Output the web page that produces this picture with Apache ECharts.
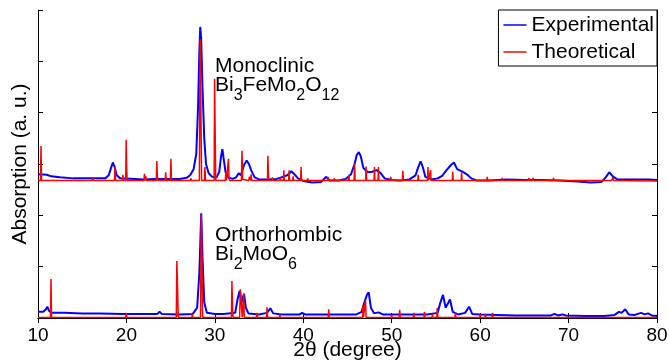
<!DOCTYPE html>
<html>
<head>
<meta charset="utf-8">
<script src="https://cdn.jsdelivr.net/npm/echarts@6/dist/echarts.min.js"></script>
<style>
  html, body { margin: 0; padding: 0; background: #fff; }
  #chart { width: 669px; height: 360px; }
</style>
</head>
<body>
<div id="chart"></div>
<script>
// x: 2theta in degrees, y: absorption in arbitrary units (0..6 on the axis)
const xTicks = [10, 20, 30, 40, 50, 60, 70, 80];

// Monoclinic Bi3FeMo2O12 - measured
const expTop = [
  [10, 2.80], [11, 2.79], [11.5, 2.76], [12.5, 2.74], [14, 2.72], [16, 2.72], [17.6, 2.72],
  [18.0, 2.78], [18.25, 2.92], [18.46, 3.03], [18.65, 2.95], [18.9, 2.78], [19.3, 2.72],
  [21, 2.71], [22, 2.70], [23, 2.71], [24, 2.71], [25, 2.71], [26, 2.71], [26.8, 2.73],
  [27.2, 2.78], [27.6, 2.90], [27.9, 3.20], [28.1, 4.10], [28.25, 5.20], [28.35, 5.67],
  [28.45, 5.45], [28.6, 4.50], [28.8, 3.50], [29.0, 3.00], [29.3, 2.82], [29.7, 2.75],
  [30.2, 2.74], [30.5, 2.85], [30.7, 3.15], [30.85, 3.29], [31.0, 3.10], [31.2, 2.85],
  [31.5, 2.74], [32.0, 2.71], [32.4, 2.74], [32.7, 2.82], [32.95, 2.78], [33.3, 2.98],
  [33.6, 3.07], [33.85, 3.00], [34.1, 2.88], [34.5, 2.74], [35, 2.70], [36, 2.70],
  [37, 2.71], [37.5, 2.74], [38.2, 2.78], [38.65, 2.86], [39.0, 2.80], [39.4, 2.72],
  [40, 2.67], [41, 2.64], [42, 2.65], [42.6, 2.75], [43, 2.68], [44, 2.68], [44.8, 2.71],
  [45.4, 2.80], [45.8, 3.00], [46.05, 3.18], [46.28, 3.23], [46.5, 3.15], [46.8, 2.92],
  [47.3, 2.84], [47.8, 2.85], [48.3, 2.88], [48.7, 2.83], [49.2, 2.72], [50, 2.69],
  [51, 2.68], [52, 2.70], [52.7, 2.78], [53.0, 2.94], [53.27, 3.05], [53.5, 2.95],
  [53.8, 2.75], [54.5, 2.70], [55.2, 2.72], [55.7, 2.77], [56.2, 2.88], [56.7, 2.98],
  [57.04, 3.03], [57.4, 2.90], [58.0, 2.85], [58.5, 2.80], [59, 2.72], [59.6, 2.68],
  [61, 2.68], [63, 2.70], [65, 2.69], [67, 2.69], [69, 2.68], [71, 2.66], [72.5, 2.64],
  [73.7, 2.65], [74.2, 2.74], [74.6, 2.84], [75.0, 2.76], [75.5, 2.70], [77, 2.70],
  [79, 2.70], [80, 2.69]
];

// Monoclinic Bi3FeMo2O12 - calculated
const theoTop = [
  [10, 2.68], [10.28, 2.68], [10.34, 3.35], [10.4, 2.68],
  [16.15, 2.68], [16.2, 2.74], [16.25, 2.68],
  [18.65, 2.68], [18.7, 2.94], [18.78, 2.68],
  [19.55, 2.68], [19.6, 2.79], [19.65, 2.68],
  [19.92, 2.68], [19.97, 3.47], [20.03, 2.90], [20.08, 2.68],
  [21.98, 2.68], [22.04, 2.81], [22.1, 2.68], [22.2, 2.76], [22.26, 2.68],
  [23.38, 2.68], [23.44, 3.06], [23.5, 2.75], [23.56, 2.68],
  [24.38, 2.68], [24.44, 2.84], [24.5, 2.68],
  [24.97, 2.68], [25.03, 3.10], [25.09, 2.68],
  [27.25, 2.68], [27.3, 2.72], [27.35, 2.68],
  [28.25, 2.68], [28.3, 4.50], [28.35, 5.43], [28.42, 4.20], [28.5, 2.68],
  [28.82, 2.68], [28.88, 2.94], [28.94, 2.68],
  [29.92, 2.68], [29.97, 4.66], [30.03, 3.70], [30.1, 2.68],
  [31.18, 2.68], [31.24, 2.84], [31.3, 2.68],
  [31.48, 2.68], [31.54, 3.10], [31.6, 2.72], [31.66, 2.68],
  [33.0, 2.68], [33.07, 3.26], [33.14, 2.70],
  [33.85, 2.68], [33.9, 2.75], [34.05, 2.68], [34.1, 2.80], [34.16, 2.68],
  [35.95, 2.68], [36.0, 3.16], [36.06, 2.78], [36.12, 2.68],
  [36.45, 2.68], [36.5, 2.74], [36.55, 2.68],
  [37.35, 2.68], [37.4, 2.74], [37.45, 2.68],
  [37.75, 2.68], [37.8, 2.88], [37.85, 2.68],
  [38.35, 2.68], [38.4, 2.88], [38.45, 2.68],
  [38.8, 2.68], [38.85, 2.76], [38.9, 2.68],
  [39.7, 2.68], [39.75, 2.94], [39.8, 2.68],
  [40.45, 2.68], [40.5, 2.72], [40.55, 2.68],
  [42.75, 2.68], [42.8, 2.75], [42.85, 2.68],
  [43.45, 2.68], [43.5, 2.72], [43.55, 2.68],
  [45.1, 2.68], [45.15, 2.79], [45.2, 2.68],
  [45.75, 2.68], [45.8, 3.02], [45.86, 2.68],
  [47.05, 2.68], [47.1, 2.95], [47.16, 2.68],
  [48.0, 2.68], [48.05, 2.94], [48.1, 2.68],
  [48.45, 2.68], [48.5, 2.94], [48.55, 2.68],
  [49.85, 2.68], [49.9, 2.75], [49.95, 2.68],
  [51.2, 2.68], [51.26, 2.87], [51.32, 2.68],
  [52.95, 2.68], [53.0, 2.79], [53.05, 2.68],
  [54.05, 2.68], [54.1, 2.94], [54.15, 2.68],
  [54.35, 2.68], [54.4, 2.88], [54.45, 2.68],
  [56.85, 2.68], [56.9, 2.85], [56.95, 2.68],
  [57.85, 2.68], [57.9, 2.84], [57.95, 2.68],
  [60.75, 2.68], [60.8, 2.75], [60.85, 2.68],
  [62.45, 2.68], [62.5, 2.73], [62.55, 2.68],
  [65.45, 2.68], [65.5, 2.73], [65.55, 2.68],
  [65.95, 2.68], [66.0, 2.73], [66.05, 2.68],
  [68.25, 2.68], [68.3, 2.73], [68.35, 2.68],
  [74.9, 2.68], [75.0, 2.75], [75.1, 2.68],
  [80, 2.67]
];

// Orthorhombic Bi2MoO6 - measured
const expBot = [
  [10, 0.12], [10.6, 0.12], [10.9, 0.17], [11.05, 0.22], [11.25, 0.14], [11.6, 0.10],
  [13, 0.10], [15, 0.09], [17, 0.09], [19.6, 0.08], [19.8, 0.10], [20.0, 0.08], [22, 0.08],
  [23.5, 0.08], [23.74, 0.12], [24.0, 0.08], [26, 0.07], [27.5, 0.08], [28.0, 0.20],
  [28.25, 0.90], [28.46, 2.04], [28.6, 1.20], [28.8, 0.30], [29.1, 0.10], [30, 0.08],
  [31, 0.08], [32.3, 0.10], [32.55, 0.35], [32.8, 0.53], [33.0, 0.30], [33.3, 0.47],
  [33.5, 0.20], [33.8, 0.09], [35, 0.07], [35.9, 0.10], [36.28, 0.19], [36.6, 0.09],
  [37.5, 0.07], [39.6, 0.07], [39.87, 0.10], [40.2, 0.07], [42, 0.07], [44, 0.07],
  [46, 0.07], [46.6, 0.12], [46.9, 0.30], [47.2, 0.45], [47.4, 0.50], [47.65, 0.20],
  [48.0, 0.09], [48.5, 0.11], [49, 0.07], [52, 0.07], [54, 0.07], [55.2, 0.10],
  [55.5, 0.30], [55.8, 0.45], [56.1, 0.20], [56.3, 0.20], [56.59, 0.36], [56.9, 0.12],
  [57.5, 0.07], [58.3, 0.10], [58.75, 0.22], [59.1, 0.08], [60, 0.07], [62, 0.06],
  [64, 0.05], [66, 0.05], [68, 0.05], [68.4, 0.08], [68.8, 0.05], [69.3, 0.07],
  [69.7, 0.05], [72, 0.04], [74, 0.04], [75.2, 0.06], [75.7, 0.12], [76.0, 0.10],
  [76.4, 0.17], [76.8, 0.07], [77.5, 0.06], [78.2, 0.10], [78.6, 0.07], [79.0, 0.09],
  [79.4, 0.05], [80, 0.04]
];

// Orthorhombic Bi2MoO6 - calculated
const theoBot = [
  [10, 0.01], [11.41, 0.01], [11.47, 0.76], [11.53, 0.01],
  [19.92, 0.01], [19.97, 0.10], [20.03, 0.01],
  [25.64, 0.01], [25.7, 1.11], [25.78, 0.60], [25.86, 0.01],
  [27.4, 0.01], [27.45, 0.08], [27.5, 0.01],
  [28.38, 0.01], [28.46, 2.01], [28.54, 1.00], [28.62, 0.01],
  [31.87, 0.01], [31.93, 0.72], [31.99, 0.30], [32.05, 0.01],
  [32.8, 0.01], [32.88, 0.56], [32.95, 0.45], [33.02, 0.20], [33.1, 0.01],
  [33.2, 0.01], [33.26, 0.47], [33.32, 0.01],
  [34.7, 0.01], [34.76, 0.10], [34.82, 0.01],
  [35.85, 0.01], [35.9, 0.21], [35.96, 0.01],
  [37.3, 0.01], [37.35, 0.07], [37.4, 0.01],
  [42.82, 0.01], [42.88, 0.17], [42.94, 0.01],
  [46.7, 0.01], [46.74, 0.25], [46.8, 0.01],
  [46.98, 0.01], [47.04, 0.35], [47.1, 0.01],
  [49.95, 0.01], [50.0, 0.07], [50.05, 0.01],
  [50.84, 0.01], [50.9, 0.16], [50.96, 0.01],
  [52.45, 0.01], [52.5, 0.10], [52.55, 0.01],
  [53.64, 0.01], [53.7, 0.12], [53.76, 0.01],
  [54.55, 0.01], [54.6, 0.08], [54.65, 0.01],
  [55.1, 0.01], [55.15, 0.20], [55.21, 0.01],
  [57.15, 0.01], [57.2, 0.10], [57.25, 0.01],
  [59.95, 0.01], [60.0, 0.08], [60.05, 0.01],
  [60.55, 0.01], [60.6, 0.08], [60.65, 0.01],
  [61.35, 0.01], [61.4, 0.10], [61.45, 0.01],
  [80, 0.01]
];

const FONT = 'Liberation Sans, Arial, sans-serif';

const chart = echarts.init(document.getElementById('chart'));

const tick = { show: true, inside: true, length: 5, lineStyle: { color: '#000', width: 1 } };
const line = { show: true, lineStyle: { color: '#000', width: 1 } };

function xAx(pos, withLabels) {
  return {
    type: 'value', position: pos, min: xTicks[0], max: xTicks[xTicks.length - 1], interval: 10,
    axisLine: line, axisTick: tick, splitLine: { show: false },
    axisLabel: { show: withLabels, color: '#000', fontSize: 19, fontFamily: FONT, margin: 8 },
    name: withLabels ? '2θ (degree)' : '', nameLocation: 'middle', nameGap: 22,
    nameMoveOverlap: false,
    nameTextStyle: { color: '#000', fontSize: 21, fontFamily: FONT }
  };
}
function yAx(pos, name) {
  return {
    type: 'value', position: pos, min: 0, max: 6, interval: 1,
    axisLine: line, axisTick: tick, splitLine: { show: false },
    axisLabel: { show: false },
    name: name, nameLocation: 'middle', nameGap: 7, nameMoveOverlap: false,
    nameTextStyle: { color: '#000', fontSize: 21, fontFamily: FONT }
  };
}

// subscripts pushed down with top padding
const rich = {
  n: { fontSize: 21, fontFamily: FONT, color: '#000', lineHeight: 19 },
  s: { fontSize: 16, fontFamily: FONT, color: '#000', lineHeight: 3, padding: [20, 0, 0, 0] }
};

chart.setOption({
  animation: false,
  backgroundColor: '#fff',
  grid: { left: 38, right: 12, top: 10, bottom: 42, outerBoundsMode: 'none', containLabel: false },
  legend: {
    data: ['Experimental', 'Theoretical'],
    orient: 'vertical', right: 12, top: 10,
    icon: 'rect', itemWidth: 23, itemHeight: 1.5, itemGap: 3,
    padding: [3, 3, 2, 5],
    borderColor: '#000', borderWidth: 1, borderRadius: 0, backgroundColor: '#fff',
    textStyle: { color: '#000', fontSize: 21, fontFamily: FONT, lineHeight: 24 }
  },
  xAxis: [xAx('bottom', true), xAx('top', false)],
  yAxis: [yAx('left', 'Absorption (a. u.)'), yAx('right', '')],
  graphic: [
    {
      type: 'text', left: 215, top: 56, z: 10,
      style: { text: '{n|Monoclinic}\n{n|Bi}{s|3}{n|FeMo}{s|2}{n|O}{s|12}', rich: rich }
    },
    {
      type: 'text', left: 215, top: 225, z: 10,
      style: { text: '{n|Orthorhombic}\n{n|Bi}{s|2}{n|MoO}{s|6}', rich: rich }
    }
  ],
  series: [
    { name: 'Experimental', type: 'line', data: expTop, symbol: 'none',
      lineStyle: { color: '#0000ff', width: 2 }, itemStyle: { color: '#0000ff' } },
    { name: 'Experimental', type: 'line', data: expBot, symbol: 'none',
      lineStyle: { color: '#0000ff', width: 2 }, itemStyle: { color: '#0000ff' } },
    { name: 'Theoretical', type: 'line', data: theoTop, symbol: 'none',
      lineStyle: { color: '#ff0000', width: 1.5 }, itemStyle: { color: '#ff0000' } },
    { name: 'Theoretical', type: 'line', data: theoBot, symbol: 'none',
      lineStyle: { color: '#ff0000', width: 1.5 }, itemStyle: { color: '#ff0000' } }
  ]
});
</script>
</body>
</html>
